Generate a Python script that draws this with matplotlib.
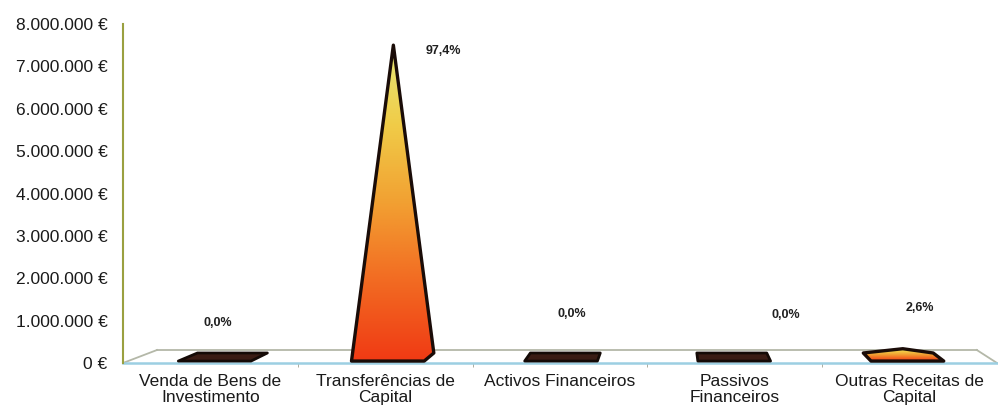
import numpy as np
import matplotlib
matplotlib.use("Agg")
import matplotlib.pyplot as plt
from matplotlib.patches import Polygon
from matplotlib.colors import LinearSegmentedColormap

# data
categories = ["Venda de Bens de\nInvestimento", "Transferências de\nCapital",
              "Activos Financeiros", "Passivos\nFinanceiros",
              "Outras Receitas de\nCapital"]
values = [1500, 7360000, 1200, 1300, 196000]
yticks = np.arange(0, 8000001, 1000000)

# layout for the percent labels (x in category units, y in value units)
label_xy = [(0.54, 0.94e6), (1.83, 7.36e6), (2.57, 1.16e6), (3.79, 1.13e6), (4.56, 1.30e6)]

plt.rcParams['font.family'] = ['Liberation Sans', 'DejaVu Sans']

W, H = 998, 405
fig = plt.figure(figsize=(W / 100, H / 100), dpi=100)
ax = fig.add_axes([123 / W, (H - 363) / H, 874 / W, 339 / H])
ax.set_xlim(0, 5)
ax.set_ylim(0, 8000000)

depth_y = 13 / 42.375 * 1e6   # floor depth in value units


def proj(x, y, z):
    # simple perspective-ish projection, z=0 front, z=1 back
    return x + z * (0.1945 - 0.062 * x), y + z * depth_y


def hull(pts):
    pts = sorted(set(pts))
    def cross(o, a, b):
        return (a[0] - o[0]) * (b[1] - o[1]) - (a[1] - o[1]) * (b[0] - o[0])
    lower, upper = [], []
    for p in pts:
        while len(lower) >= 2 and cross(lower[-2], lower[-1], p) <= 0:
            lower.pop()
        lower.append(p)
    for p in reversed(pts):
        while len(upper) >= 2 and cross(upper[-2], upper[-1], p) <= 0:
            upper.pop()
        upper.append(p)
    return lower[:-1] + upper[:-1]


# floor
f0 = proj(0, 0, 0); f1 = proj(5, 0, 0); b0 = proj(0, 0, 1); b1 = proj(5, 0, 1)
ax.fill([f0[0], f1[0], b1[0], b0[0]], [f0[1], f1[1], b1[1], b0[1]], color='white', zorder=1)
ax.plot([b0[0], b1[0]], [b0[1], b1[1]], color='#b4b8a8', lw=1.3, zorder=2, clip_on=False)
ax.plot([f0[0], b0[0]], [f0[1], b0[1]], color='#b4b8a8', lw=1.3, zorder=2, clip_on=False)
ax.plot([f1[0], b1[0]], [f1[1], b1[1]], color='#b4b8a8', lw=1.3, zorder=2, clip_on=False)
ax.plot([f0[0], f1[0]], [f0[1], f1[1]], color='#9ccfe2', lw=1.8, zorder=2, clip_on=False)

cmap = LinearSegmentedColormap.from_list(
    "pyr", ['#f03a14', '#f26a22', '#f2a032', '#f0cc48', '#e8e878'])
grad = np.linspace(0, 1, 256).reshape(-1, 1)

hw, zf, zb = 0.21, 0.15, 0.77
for i, v in enumerate(values):
    c = i + 0.5
    zm = (zf + zb) / 2
    pts = [proj(c - hw, 0, zf), proj(c + hw, 0, zf),
           proj(c + hw, 0, zb), proj(c - hw, 0, zb), proj(c, v, zm)]
    poly = hull(pts)
    xs = [p[0] for p in poly]; ys = [p[1] for p in poly]
    if v > 50000:
        patch = Polygon(poly, closed=True, facecolor='none', edgecolor='none')
        ax.add_patch(patch)
        im = ax.imshow(grad, cmap=cmap, origin='lower', aspect='auto',
                       extent=[min(xs), max(xs), min(ys), max(ys)], zorder=3)
        im.set_clip_path(patch)
        ax.add_patch(Polygon(poly, closed=True, facecolor='none',
                             edgecolor='#1a0c08', lw=2.4, zorder=4, joinstyle='round'))
    else:
        ax.add_patch(Polygon(poly, closed=True, facecolor='#3a1c14',
                             edgecolor='#140a06', lw=2.0, zorder=4, joinstyle='round'))

total = sum(values)
for (lx, ly), v in zip(label_xy, values):
    txt = f"{v / total * 100:.1f}%".replace('.', ',')
    ax.text(lx, ly, txt, ha='center', va='center', fontsize=9,
            fontweight='bold', color='#202020')

ax.set_xlim(0, 5)
ax.set_ylim(0, 8000000)

ax.set_yticks(yticks)
ax.set_yticklabels([f"{int(t):,}".replace(',', '.') + " €" for t in yticks])
ax.tick_params(axis='y', length=0, pad=11, labelsize=12.5, labelcolor='#1a1a1a')

ax.set_xticks([i + 0.5 for i in range(5)])
ax.set_xticklabels(categories, linespacing=1.05)
ax.set_xticks([1, 2, 3, 4], minor=True)
ax.tick_params(axis='x', which='major', length=0, pad=8, labelsize=12.5, labelcolor='#1a1a1a')
ax.tick_params(axis='x', which='minor', length=3, color='#a0a090', direction='out')

for s in ['top', 'right', 'bottom']:
    ax.spines[s].set_visible(False)
ax.spines['left'].set_color('#9aa040')
ax.spines['left'].set_linewidth(1.5)
ax.set_facecolor('none')

fig.savefig("out.png", dpi=100)
